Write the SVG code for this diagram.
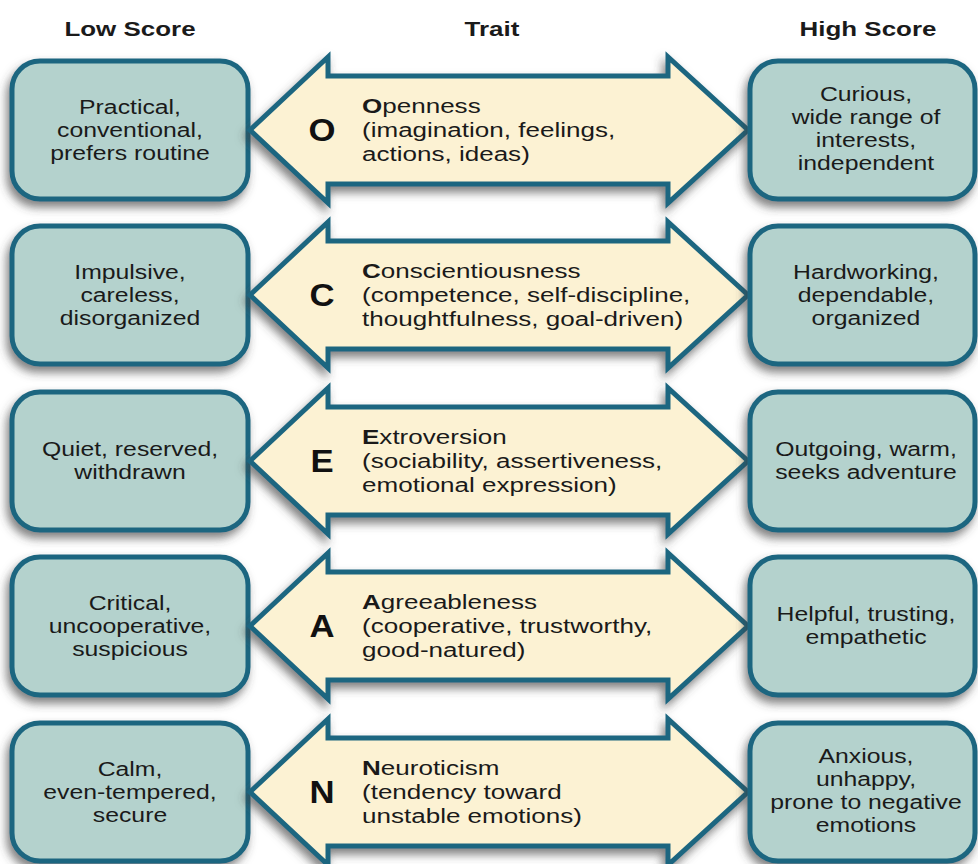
<svg xmlns="http://www.w3.org/2000/svg" width="978" height="864" viewBox="0 0 978 864">
<defs>
<filter id="sh" x="-20%" y="-20%" width="140%" height="150%">
<feDropShadow dx="-3" dy="6" stdDeviation="5" flood-color="#404040" flood-opacity="0.65"/>
</filter>
</defs>
<style>
.box{fill:#b4d2cd;stroke:#1d6680;stroke-width:5;filter:url(#sh)}
.arr{fill:#fcf2d3;stroke:#1d6680;stroke-width:5;stroke-linejoin:miter;filter:url(#sh)}
.t{font-family:"Liberation Sans",Arial,sans-serif;font-size:21px;fill:#1a1a1a;text-anchor:middle}
.tr{font-family:"Liberation Sans",Arial,sans-serif;font-size:21px;fill:#1a1a1a}
.L{font-family:"Liberation Sans",Arial,sans-serif;font-size:31px;font-weight:bold;fill:#111;text-anchor:middle}
.h{font-family:"Liberation Sans",Arial,sans-serif;font-size:19.5px;font-weight:bold;fill:#1a1a1a;text-anchor:middle}
.b{font-weight:bold}
</style>
<rect width="978" height="864" fill="#ffffff"/>
<g id="headers">
<text class="h" transform="translate(130 0) scale(1.33 1)" x="0" y="36">Low Score</text>
<text class="h" transform="translate(492 0) scale(1.33 1)" x="0" y="36">Trait</text>
<text class="h" transform="translate(868 0) scale(1.33 1)" x="0" y="36">High Score</text>
</g>

<g id="row-O">
<g id="O-low">
<rect class="box" x="12" y="61" width="236" height="138" rx="28"/>
<text class="t" transform="translate(130 0) scale(1.18 1)"><tspan x="0" y="114">Practical,</tspan><tspan x="0" y="137">conventional,</tspan><tspan x="0" y="160">prefers routine</tspan></text>
</g>
<g id="O-trait">
<path class="arr" d="M250,130 L328,57 L328,76 L668,76 L668,57 L748,130 L668,203 L668,184 L328,184 L328,203 Z"/>
<text class="L" transform="translate(322 0) scale(1.12 1)" x="0" y="141">O</text>
<text class="tr" transform="translate(362 0) scale(1.24 1)"><tspan x="0" y="113"><tspan class="b">O</tspan>penness</tspan><tspan x="0" y="137">(imagination, feelings,</tspan><tspan x="0" y="161">actions, ideas)</tspan></text>
</g>
<g id="O-high">
<rect class="box" x="750" y="61" width="225" height="138" rx="28"/>
<text class="t" transform="translate(866 0) scale(1.18 1)"><tspan x="0" y="101">Curious,</tspan><tspan x="0" y="124">wide range of</tspan><tspan x="0" y="147">interests,</tspan><tspan x="0" y="170">independent</tspan></text>
</g>
</g>

<g id="row-C">
<g id="C-low">
<rect class="box" x="12" y="226" width="236" height="138" rx="28"/>
<text class="t" transform="translate(130 0) scale(1.18 1)"><tspan x="0" y="279">Impulsive,</tspan><tspan x="0" y="302">careless,</tspan><tspan x="0" y="325">disorganized</tspan></text>
</g>
<g id="C-trait">
<path class="arr" d="M250,295 L328,222 L328,241 L668,241 L668,222 L748,295 L668,368 L668,349 L328,349 L328,368 Z"/>
<text class="L" transform="translate(322 0) scale(1.12 1)" x="0" y="306">C</text>
<text class="tr" transform="translate(362 0) scale(1.24 1)"><tspan x="0" y="278"><tspan class="b">C</tspan>onscientiousness</tspan><tspan x="0" y="302">(competence, self-discipline,</tspan><tspan x="0" y="326">thoughtfulness, goal-driven)</tspan></text>
</g>
<g id="C-high">
<rect class="box" x="750" y="226" width="225" height="138" rx="28"/>
<text class="t" transform="translate(866 0) scale(1.18 1)"><tspan x="0" y="279">Hardworking,</tspan><tspan x="0" y="302">dependable,</tspan><tspan x="0" y="325">organized</tspan></text>
</g>
</g>

<g id="row-E">
<g id="E-low">
<rect class="box" x="12" y="392" width="236" height="138" rx="28"/>
<text class="t" transform="translate(130 0) scale(1.18 1)"><tspan x="0" y="456">Quiet, reserved,</tspan><tspan x="0" y="479">withdrawn</tspan></text>
</g>
<g id="E-trait">
<path class="arr" d="M250,461 L328,388 L328,407 L668,407 L668,388 L748,461 L668,534 L668,515 L328,515 L328,534 Z"/>
<text class="L" transform="translate(322 0) scale(1.12 1)" x="0" y="472">E</text>
<text class="tr" transform="translate(362 0) scale(1.24 1)"><tspan x="0" y="444"><tspan class="b">E</tspan>xtroversion</tspan><tspan x="0" y="468">(sociability, assertiveness,</tspan><tspan x="0" y="492">emotional expression)</tspan></text>
</g>
<g id="E-high">
<rect class="box" x="750" y="392" width="225" height="138" rx="28"/>
<text class="t" transform="translate(866 0) scale(1.18 1)"><tspan x="0" y="456">Outgoing, warm,</tspan><tspan x="0" y="479">seeks adventure</tspan></text>
</g>
</g>

<g id="row-A">
<g id="A-low">
<rect class="box" x="12" y="557" width="236" height="138" rx="28"/>
<text class="t" transform="translate(130 0) scale(1.18 1)"><tspan x="0" y="610">Critical,</tspan><tspan x="0" y="633">uncooperative,</tspan><tspan x="0" y="656">suspicious</tspan></text>
</g>
<g id="A-trait">
<path class="arr" d="M250,626 L328,553 L328,572 L668,572 L668,553 L748,626 L668,699 L668,680 L328,680 L328,699 Z"/>
<text class="L" transform="translate(322 0) scale(1.12 1)" x="0" y="637">A</text>
<text class="tr" transform="translate(362 0) scale(1.24 1)"><tspan x="0" y="609"><tspan class="b">A</tspan>greeableness</tspan><tspan x="0" y="633">(cooperative, trustworthy,</tspan><tspan x="0" y="657">good-natured)</tspan></text>
</g>
<g id="A-high">
<rect class="box" x="750" y="557" width="225" height="138" rx="28"/>
<text class="t" transform="translate(866 0) scale(1.18 1)"><tspan x="0" y="621">Helpful, trusting,</tspan><tspan x="0" y="644">empathetic</tspan></text>
</g>
</g>

<g id="row-N">
<g id="N-low">
<rect class="box" x="12" y="723" width="236" height="138" rx="28"/>
<text class="t" transform="translate(130 0) scale(1.18 1)"><tspan x="0" y="776">Calm,</tspan><tspan x="0" y="799">even-tempered,</tspan><tspan x="0" y="822">secure</tspan></text>
</g>
<g id="N-trait">
<path class="arr" d="M250,792 L328,719 L328,738 L668,738 L668,719 L748,792 L668,865 L668,846 L328,846 L328,865 Z"/>
<text class="L" transform="translate(322 0) scale(1.12 1)" x="0" y="803">N</text>
<text class="tr" transform="translate(362 0) scale(1.24 1)"><tspan x="0" y="775"><tspan class="b">N</tspan>euroticism</tspan><tspan x="0" y="799">(tendency toward</tspan><tspan x="0" y="823">unstable emotions)</tspan></text>
</g>
<g id="N-high">
<rect class="box" x="750" y="723" width="225" height="138" rx="28"/>
<text class="t" transform="translate(866 0) scale(1.18 1)"><tspan x="0" y="763">Anxious,</tspan><tspan x="0" y="786">unhappy,</tspan><tspan x="0" y="809">prone to negative</tspan><tspan x="0" y="832">emotions</tspan></text>
</g>
</g>
</svg>
